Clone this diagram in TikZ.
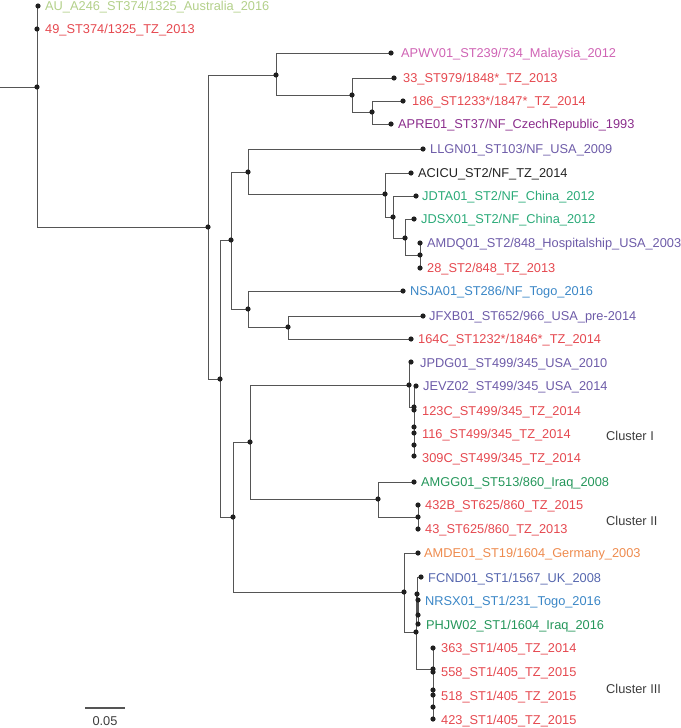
\documentclass[tikz,border=0pt]{standalone}
\usepackage{fontspec}
\setmainfont{Liberation Sans}
\definecolor{treegray}{HTML}{555555}
\definecolor{cAU}{HTML}{B3D08A}
\definecolor{cTZ}{HTML}{E5484F}
\definecolor{cPink}{HTML}{CF63B4}
\definecolor{cPurple}{HTML}{8B2D8C}
\definecolor{cSlate}{HTML}{6D5BA8}
\definecolor{cTeal}{HTML}{2AAA78}
\definecolor{cBlue}{HTML}{3A86C6}
\definecolor{cGreen}{HTML}{24965A}
\definecolor{cOrange}{HTML}{EE8B4E}
\definecolor{cFCND}{HTML}{5566AE}
\definecolor{cBlack}{HTML}{222222}
\definecolor{cClus}{HTML}{3C3C3C}
\begin{document}
\begin{tikzpicture}[x=1pt,y=-1pt,
  edge/.style={draw=treegray,line width=0.9pt},
  lbl/.style={anchor=west,inner sep=0pt,text height=9.2pt,text depth=0pt,font=\fontsize{12.8}{15}\selectfont},
  clus/.style={anchor=west,inner sep=0pt,text height=9.2pt,text depth=0pt,font=\fontsize{12.8}{15}\selectfont,text=cClus}]
\useasboundingbox (0,0) rectangle (680,728);
% internal nodes
\coordinate (r0) at (0,87);
\coordinate (n1) at (37,87);
\coordinate (n2) at (208,227);
\coordinate (n3) at (276,75);
\coordinate (n4) at (352,95);
\coordinate (n5) at (372,112);
\coordinate (n8) at (220,379);
\coordinate (n9) at (231,240);
\coordinate (n10) at (248,172);
\coordinate (n11) at (385,194);
\coordinate (n12) at (393,217);
\coordinate (n13) at (405,238);
\coordinate (n14) at (420,255);
\coordinate (n16) at (248,309);
\coordinate (n17) at (288,327);
\coordinate (n20) at (233,517);
\coordinate (n21) at (250,442);
\coordinate (n22) at (409,385);
\coordinate (c1a) at (414,407);
\coordinate (c1b) at (414,427);
\coordinate (c1c) at (414,445);
\coordinate (n26) at (378,499);
\coordinate (n27) at (418,517);
\coordinate (n30) at (404,592);
\coordinate (n31) at (416,632);
\coordinate (n32) at (417,594);
\coordinate (n33) at (418,615);
\coordinate (n35) at (433,669);
\coordinate (n36) at (433,690);
\coordinate (n37) at (433,707);
% leaf dots
\coordinate (dAU) at (38,6);
\coordinate (d49) at (37,29);
\coordinate (dAPWV) at (391,53);
\coordinate (d33) at (394,78);
\coordinate (d186) at (403,101);
\coordinate (dAPRE) at (391,124);
\coordinate (dLLGN) at (423,149);
\coordinate (dACICU) at (411,173);
\coordinate (dJDTA) at (416,196);
\coordinate (dJDSX) at (414,219);
\coordinate (dAMDQ) at (420,243);
\coordinate (d28) at (420,268);
\coordinate (dNSJA) at (403,291);
\coordinate (dJFXB) at (423,316);
\coordinate (d164) at (411,339);
\coordinate (dJPDG) at (411,362);
\coordinate (dJEVZ) at (416,386);
\coordinate (d123) at (414,410);
\coordinate (d116) at (414,433);
\coordinate (d309) at (414,456);
\coordinate (dAMGG) at (414,482);
\coordinate (d432) at (418,505);
\coordinate (d43) at (418,529);
\coordinate (dAMDE) at (418,553);
\coordinate (dFCND) at (421,577);
\coordinate (dNRSX) at (418,600);
\coordinate (dPHJW) at (418,624);
\coordinate (d363) at (433,648);
\coordinate (d558) at (433,672);
\coordinate (d518) at (433,695);
\coordinate (d423) at (433,719);
% edges
\draw[edge] (r0) -- (n1);
\foreach \a/\b in {n1/dAU,n1/d49,n1/n2,n2/n3,n2/n8,n3/dAPWV,n3/n4,n4/d33,n4/n5,n5/d186,n5/dAPRE,
  n8/n9,n8/n20,n9/n10,n9/n16,n10/dLLGN,n10/n11,n11/dACICU,n11/n12,n12/dJDTA,n12/n13,n13/dJDSX,n13/n14,
  n14/dAMDQ,n14/d28,n16/dNSJA,n16/n17,n17/dJFXB,n17/d164,
  n20/n21,n20/n30,n21/n22,n21/n26,n22/dJPDG,n22/c1a,c1a/dJEVZ,c1a/d123,c1a/c1b,c1b/d116,c1b/c1c,c1c/d309,
  n26/dAMGG,n26/n27,n27/d432,n27/d43,
  n30/dAMDE,n30/n31,n31/n32,n31/n35,n32/dFCND,n32/n33,n33/dNRSX,n33/dPHJW,
  n35/d363,n35/d558,n35/n36,n36/d518,n36/n37,n37/d423}
  {\draw[edge] (\a) |- (\b);}
% dots
\foreach \p in {n1,n2,n3,n4,n5,n8,n9,n10,n11,n12,n13,n14,n16,n17,n20,n21,n22,c1a,c1b,c1c,n26,n27,n30,n31,n32,n33,n35,n36,n37,
  dAU,d49,dAPWV,d33,d186,dAPRE,dLLGN,dACICU,dJDTA,dJDSX,dAMDQ,d28,dNSJA,dJFXB,d164,dJPDG,dJEVZ,d123,d116,d309,
  dAMGG,d432,d43,dAMDE,dFCND,dNRSX,dPHJW,d363,d558,d518,d423}
  {\fill[black!88] (\p) circle (2.6pt);}
% labels
\node[lbl,text=cAU] (tAU) at (45,6) {AU\_A246\_ST374/1325\_Australia\_2016};
\node[lbl,text=cTZ] (t49) at (45,29) {49\_ST374/1325\_TZ\_2013};
\node[lbl,text=cPink] (tAPWV) at (401,53) {APWV01\_ST239/734\_Malaysia\_2012};
\node[lbl,text=cTZ] (t33) at (403,78) {33\_ST979/1848*\_TZ\_2013};
\node[lbl,text=cTZ] (t186) at (412,101) {186\_ST1233*/1847*\_TZ\_2014};
\node[lbl,text=cPurple] (tAPRE) at (398,124) {APRE01\_ST37/NF\_CzechRepublic\_1993};
\node[lbl,text=cSlate] (tLLGN) at (430,149) {LLGN01\_ST103/NF\_USA\_2009};
\node[lbl,text=cBlack] (tACICU) at (418,173) {ACICU\_ST2/NF\_TZ\_2014};
\node[lbl,text=cTeal] (tJDTA) at (422,196) {JDTA01\_ST2/NF\_China\_2012};
\node[lbl,text=cTeal] (tJDSX) at (421,219) {JDSX01\_ST2/NF\_China\_2012};
\node[lbl,text=cSlate] (tAMDQ) at (427,243) {AMDQ01\_ST2/848\_Hospitalship\_USA\_2003};
\node[lbl,text=cTZ] (t28) at (427,268) {28\_ST2/848\_TZ\_2013};
\node[lbl,text=cBlue] (tNSJA) at (410,291) {NSJA01\_ST286/NF\_Togo\_2016};
\node[lbl,text=cSlate] (tJFXB) at (429,316) {JFXB01\_ST652/966\_USA\_pre-2014};
\node[lbl,text=cTZ] (t164) at (418,339) {164C\_ST1232*/1846*\_TZ\_2014};
\node[lbl,text=cSlate] (tJPDG) at (420,363) {JPDG01\_ST499/345\_USA\_2010};
\node[lbl,text=cSlate] (tJEVZ) at (423,386) {JEVZ02\_ST499/345\_USA\_2014};
\node[lbl,text=cTZ] (t123) at (422,411) {123C\_ST499/345\_TZ\_2014};
\node[lbl,text=cTZ] (t116) at (422,434) {116\_ST499/345\_TZ\_2014};
\node[lbl,text=cTZ] (t309) at (422,458) {309C\_ST499/345\_TZ\_2014};
\node[lbl,text=cGreen] (tAMGG) at (421,482) {AMGG01\_ST513/860\_Iraq\_2008};
\node[lbl,text=cTZ] (t432) at (425,505) {432B\_ST625/860\_TZ\_2015};
\node[lbl,text=cTZ] (t43) at (425,529) {43\_ST625/860\_TZ\_2013};
\node[lbl,text=cOrange] (tAMDE) at (424,553) {AMDE01\_ST19/1604\_Germany\_2003};
\node[lbl,text=cFCND] (tFCND) at (428,578) {FCND01\_ST1/1567\_UK\_2008};
\node[lbl,text=cBlue] (tNRSX) at (425,601) {NRSX01\_ST1/231\_Togo\_2016};
\node[lbl,text=cGreen] (tPHJW) at (426,625) {PHJW02\_ST1/1604\_Iraq\_2016};
\node[lbl,text=cTZ] (t363) at (441,648) {363\_ST1/405\_TZ\_2014};
\node[lbl,text=cTZ] (t558) at (441,672) {558\_ST1/405\_TZ\_2015};
\node[lbl,text=cTZ] (t518) at (441,696) {518\_ST1/405\_TZ\_2015};
\node[lbl,text=cTZ] (t423) at (441,720) {423\_ST1/405\_TZ\_2015};
% cluster labels
\node[clus] (cl1) at (606,436) {Cluster I};
\node[clus] (cl2) at (606,521) {Cluster II};
\node[clus] (cl3) at (606,689) {Cluster III};
% scale bar
\coordinate (sb1) at (85,708);
\coordinate (sb2) at (125,708);
\draw[treegray,line width=1.3pt] (sb1) -- (sb2);
\node[inner sep=0pt,text height=9.2pt,text depth=0pt,font=\fontsize{12.8}{15}\selectfont,text=cClus] (sbl) at (105,721) {0.05};
\end{tikzpicture}
\end{document}
